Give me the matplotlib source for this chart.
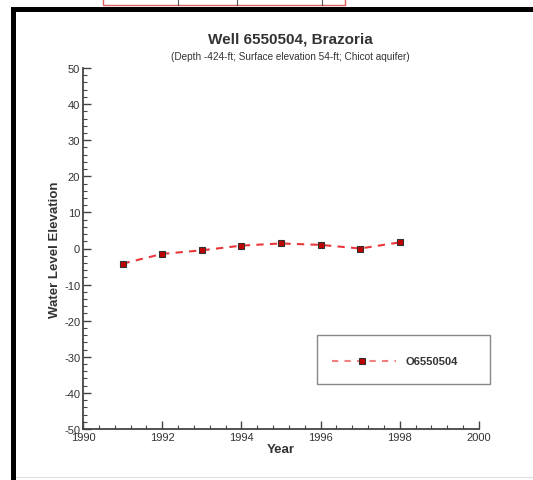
import numpy as np
import matplotlib.pyplot as plt
from matplotlib.lines import Line2D
from matplotlib.patches import Rectangle
from matplotlib.ticker import MultipleLocator

# Water level data for well 6550504
years = [1991, 1992, 1993, 1994, 1995, 1996, 1997, 1998]
levels = [-4.2, -1.5, -0.5, 0.8, 1.4, 1.0, 0.0, 1.7]
series_name = 'O6550504'

plt.rcParams['font.family'] = ['Liberation Sans', 'DejaVu Sans']
plt.rcParams['axes.unicode_minus'] = False

fig = plt.figure(figsize=(5.33, 4.81), dpi=100)
W, H = 533, 481
ax = fig.add_axes([83 / W, 1 - 430 / H, (479 - 83) / W, (430 - 69) / H])

ax.plot(years, levels, linestyle=(0, (3.5, 3)), color='#e8383c', linewidth=1.5,
        marker='s', markersize=5, markerfacecolor='#c00000',
        markeredgecolor='#333333', markeredgewidth=0.8, label=series_name)

ax.set_xlim(1990, 2000)
ax.set_ylim(-50, 50)
ax.xaxis.set_major_locator(MultipleLocator(2))
ax.xaxis.set_minor_locator(MultipleLocator(0.4))
ax.yaxis.set_major_locator(MultipleLocator(10))
ax.yaxis.set_minor_locator(MultipleLocator(2))
ax.tick_params(which='major', direction='in', length=6, width=1.0, color='#444444',
               labelsize=8, labelcolor='#333333', pad=2)
ax.tick_params(which='minor', direction='in', length=3, width=0.8, color='#444444')
for s in ['top', 'right']:
    ax.spines[s].set_visible(False)
for s in ['left', 'bottom']:
    ax.spines[s].set_linewidth(1.3)
    ax.spines[s].set_color('#444444')

ax.set_xlabel('Year', fontsize=9.5, fontweight='bold', color='#333333', labelpad=1)
ax.set_ylabel('Water Level Elevation', fontsize=9.5, fontweight='bold', color='#333333', labelpad=2)

fig.text(290 / W, 1 - 40 / H, 'Well 6550504, Brazoria', ha='center', va='center',
         fontsize=11, fontweight='bold', color='#333333')
fig.text(290 / W, 1 - 57 / H, '(Depth -424-ft; Surface elevation 54-ft; Chicot aquifer)',
         ha='center', va='center', fontsize=7.2, color='#333333')

# legend box
fig.add_artist(Rectangle((317 / W, 1 - 385 / H), (490 - 317) / W, (385 - 336) / H,
                         transform=fig.transFigure, fill=False, edgecolor='#888888', linewidth=1))
fig.add_artist(Line2D([332 / W, 396 / W], [1 - 362 / H] * 2, transform=fig.transFigure,
                      linestyle=(0, (3, 3)), color='#f08080', linewidth=1.5))
fig.add_artist(Line2D([362 / W], [1 - 362 / H], transform=fig.transFigure, marker='s',
                      markersize=5, markerfacecolor='#c00000', markeredgecolor='#333333',
                      markeredgewidth=0.8))
fig.text(406 / W, 1 - 362 / H, series_name, ha='left', va='center', fontsize=8,
         fontweight='bold', color='#333333')

# screenshot frame
fig.add_artist(Rectangle((11 / W, 0), 5 / W, 1 - 8 / H, transform=fig.transFigure,
                         color='black', linewidth=0))
fig.add_artist(Rectangle((11 / W, 1 - 13 / H), 1 - 11 / W, 5 / H, transform=fig.transFigure,
                         color='black', linewidth=0))
fig.add_artist(Line2D([103 / W, 103 / W, 345 / W, 345 / W], [1, 1 - 6 / H, 1 - 6 / H, 1],
                      transform=fig.transFigure, color='#e06060', linewidth=1))
for xv in [178, 237, 322]:
    fig.add_artist(Line2D([xv / W] * 2, [1, 1 - 6 / H], transform=fig.transFigure,
                          color='#555555', linewidth=0.8))
fig.add_artist(Line2D([16 / W, 1], [1 - 478 / H] * 2, transform=fig.transFigure,
                      color='#dddddd', linewidth=0.8))

fig.savefig('out.png', dpi=100)
